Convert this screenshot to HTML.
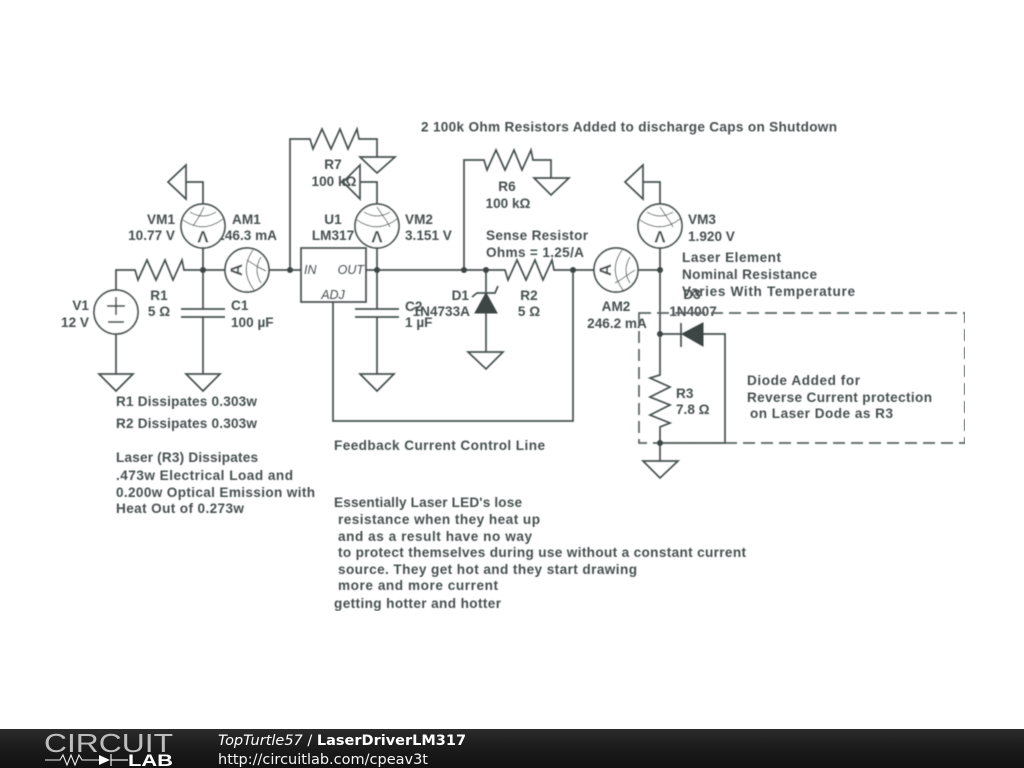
<!DOCTYPE html>
<html><head><meta charset="utf-8"><style>
html,body{margin:0;padding:0;background:#fff;width:1024px;height:768px;overflow:hidden}
svg{display:block;position:absolute;left:0;top:0}
.t{font-family:"Liberation Sans",sans-serif;font-weight:bold;font-size:13.6px;fill:#474f4f}
.m{text-anchor:middle}.e{text-anchor:end}
.i{font-family:"Liberation Sans",sans-serif;font-style:italic;font-size:12.5px;fill:#474f4f}
.w{fill:none;stroke:#474f4f;stroke-width:1.7;stroke-linejoin:miter}
.g{fill:none;stroke:#474f4f;stroke-width:1.7}
.n{fill:#3c4444}
.mc{fill:#fff;stroke:#474f4f;stroke-width:1.7}
.ma{fill:none;stroke:#5a6262;stroke-width:1}
.ml{font-family:"Liberation Sans",sans-serif;font-weight:bold;font-size:17px;fill:#474f4f;text-anchor:middle}
</style></head><body>
<svg width="1024" height="768" viewBox="0 0 1024 768" xmlns="http://www.w3.org/2000/svg">
<defs>
<filter id="b" x="0" y="0" width="100%" height="100%"><feGaussianBlur stdDeviation="0.4"/></filter>
<linearGradient id="bar" x1="0" y1="0" x2="0" y2="1"><stop offset="0" stop-color="#2b2b2b"/><stop offset="0.5" stop-color="#1b1b1b"/><stop offset="1" stop-color="#111"/></linearGradient>
<g id="arcL">
<path class="ma" d="M-13,-14 Q0,-6 13,-14"/>
<path class="ma" d="M-20,-6 Q0,8 20,-7"/>
<path class="ma" d="M-10,0 Q-6,-6 -3,-11 Q-1,-15 1,-19"/>
</g>
<g id="arcR">
<path class="ma" d="M-13,-14 Q0,-6 13,-14"/>
<path class="ma" d="M-20,-6 Q0,8 20,-7"/>
<path class="ma" d="M0,-19 Q4,-13 6,-10 Q10,-5 13,1"/>
</g>
</defs>
<g filter="url(#b)">
<text class="t" x="421" y="131.5" textLength="416">2 100k Ohm Resistors Added to discharge Caps on Shutdown</text>
<text class="t m" x="333" y="169">R7</text>
<text class="t m" x="334" y="186">100 kΩ</text>
<text class="t m" x="507" y="191">R6</text>
<text class="t m" x="508" y="208">100 kΩ</text>
<text class="t e" x="175" y="224">VM1</text>
<text class="t e" x="175" y="240">10.77 V</text>
<text class="t" x="232" y="224">AM1</text>
<text class="t e" x="277" y="240">246.3 mA</text>
<text class="t m" x="333" y="224">U1</text>
<text class="t m" x="333" y="240">LM317</text>
<text class="t m" x="159" y="300">R1</text>
<text class="t m" x="159" y="316">5 Ω</text>
<text class="t" x="231" y="310">C1</text>
<text class="t" x="231" y="327">100 µF</text>
<text class="t e" x="89" y="310">V1</text>
<text class="t e" x="89" y="327">12 V</text>
<text class="t" x="405" y="224">VM2</text>
<text class="t" x="405" y="240">3.151 V</text>
<text class="t" x="405" y="311">C2</text>
<text class="t" x="405" y="327">1 µF</text>
<text class="t e" x="469" y="300">D1</text>
<text class="t e" x="470" y="316">1N4733A</text>
<text class="t m" x="529" y="300">R2</text>
<text class="t m" x="529" y="316">5 Ω</text>
<text class="t" x="486" y="240" textLength="102">Sense Resistor</text>
<text class="t" x="486" y="257" textLength="98">Ohms = 1.25/A</text>
<text class="t" x="688" y="224">VM3</text>
<text class="t" x="688" y="241">1.920 V</text>
<text class="t" x="682" y="262" textLength="99">Laser Element</text>
<text class="t" x="682" y="279" textLength="135">Nominal Resistance</text>
<text class="t" x="682" y="296" textLength="173">Varies With Temperature</text>
<text class="t m" x="692" y="299">D3</text>
<text class="t m" x="693" y="316">1N4007</text>
<text class="t m" x="616" y="311">AM2</text>
<text class="t m" x="617" y="328">246.2 mA</text>
<text class="t" x="676" y="398">R3</text>
<text class="t" x="676" y="414">7.8 Ω</text>
<text class="t" x="747" y="385" textLength="113">Diode Added for</text>
<text class="t" x="747" y="402" textLength="185">Reverse Current protection</text>
<text class="t" x="750" y="418" textLength="143">on Laser Dode as R3</text>
<text class="t" x="116" y="406" textLength="141">R1 Dissipates 0.303w</text>
<text class="t" x="116" y="428" textLength="141">R2 Dissipates 0.303w</text>
<text class="t" x="116" y="462" textLength="142">Laser (R3) Dissipates</text>
<text class="t" x="116" y="480" textLength="177">.473w Electrical Load and</text>
<text class="t" x="116" y="497" textLength="199">0.200w Optical Emission with</text>
<text class="t" x="116" y="513" textLength="128">Heat Out of 0.273w</text>
<text class="t" x="334" y="450" textLength="211">Feedback Current Control Line</text>
<text class="t" x="334" y="507" textLength="188">Essentially Laser LED's lose</text>
<text class="t" x="338" y="524" textLength="202">resistance when they heat up</text>
<text class="t" x="338" y="541" textLength="194">and as a result have no way</text>
<text class="t" x="338" y="557" textLength="408">to protect themselves during use without a constant current</text>
<text class="t" x="338" y="574" textLength="299">source. They get hot and they start drawing</text>
<text class="t" x="338" y="590" textLength="160">more and more current</text>
<text class="t" x="334" y="608" textLength="167">getting hotter and hotter</text>

<!-- wires -->
<path class="w" d="M116,290 V270 H135 L138,280 L147,260 L156,280 L165,260 L173,280 L182,260 L184,270 H225"/>
<path class="w" d="M116,334 V374"/>
<path class="w" d="M203,248 V309 M203,317 V374 M181,309 H225 M181,317 H225"/>
<path class="w" d="M269,270 H301"/>
<path class="w" d="M290,270 V139 H310 L313,149 L322,129 L331,149 L340,129 L348,149 L357,129 L359,139 H377 V157"/>
<path class="w" d="M366,270 H505 L508,280 L517,260 L526,280 L535,260 L543,280 L552,260 L554,270 H594"/>
<path class="w" d="M377,248 V309 M377,317 V374 M355,309 H399 M355,317 H399"/>
<path class="w" d="M333,302 V421 H573 V270"/>
<path class="w" d="M464,270 V160 H484 L487,170 L496,150 L505,170 L514,150 L522,170 L531,150 L533,160 H551 V178"/>
<path class="w" d="M486,270 V352"/>
<path class="w" d="M472,297 L477,293 H495 L498,286"/>
<path class="n" d="M486,293 L497,313 H475 Z" stroke="#3c4444"/>
<path class="w" d="M638,270 H660"/>
<path class="w" d="M660,248 V375 L650,378 L670,387 L650,397 L670,405 L650,415 L670,423 L660,427 V461"/>
<path class="w" d="M660,334 H681 M681,323 V347 M703,334 H725 V443 H660"/>
<path class="n" d="M682,334 L703,323 V346 Z" stroke="#3c4444"/>

<!-- dashed box -->
<rect x="639" y="313" width="326" height="130" fill="none" stroke="#5a6262" stroke-width="1.7" stroke-dasharray="12 6"/>

<!-- grounds -->
<path class="g" d="M99,374 H133 L116,391 Z M186,374 H220 L203,391 Z M360,374 H394 L377,391 Z M360,157 H395 L377,173 Z M534,178 H569 L551,195 Z M468,352 H503 L486,369 Z M643,461 H678 L660,478 Z"/>
<path class="g" d="M186,165 V199 L168,182 Z M360,165 V199 L343,182 Z M643,165 V199 L625,182 Z"/>
<path class="w" d="M203,204 V182 H186 M377,204 V182 H360 M660,204 V182 H643"/>

<!-- U1 -->
<rect x="301" y="248" width="65" height="54" fill="none" stroke="#474f4f" stroke-width="1.7"/>
<text class="i" x="304" y="274">IN</text>
<text class="i e" x="364" y="274">OUT</text>
<text class="i m" x="333" y="299">ADJ</text>

<!-- V1 -->
<circle class="mc" cx="116" cy="312" r="22"/>
<path class="w" d="M107,306 H125 M116,297 V315 M108,322 H124"/>

<!-- meters -->
<g transform="translate(203,226)"><circle class="mc" r="22"/><use href="#arcL"/><text class="ml" transform="translate(0,5) rotate(180)">V</text></g>
<g transform="translate(377,226)"><circle class="mc" r="22"/><use href="#arcR"/><text class="ml" transform="translate(0,5) rotate(180)">V</text></g>
<g transform="translate(660,226)"><circle class="mc" r="22"/><use href="#arcR"/><text class="ml" transform="translate(0,5) rotate(180)">V</text></g>
<g transform="translate(247,270) rotate(90)"><circle class="mc" r="22"/><use href="#arcL"/><text class="ml" transform="translate(0,5) rotate(180)">A</text></g>
<g transform="translate(616,270) rotate(90)"><circle class="mc" r="22"/><use href="#arcR"/><text class="ml" transform="translate(0,5) rotate(180)">A</text></g>

<!-- nodes -->
<g class="n">
<circle cx="203" cy="270" r="3"/><circle cx="290" cy="270" r="3"/><circle cx="377" cy="270" r="3"/>
<circle cx="464" cy="270" r="3"/><circle cx="486" cy="270" r="3"/><circle cx="573" cy="270" r="3"/>
<circle cx="660" cy="270" r="3"/><circle cx="660" cy="334" r="3"/><circle cx="660" cy="443" r="3"/>
</g>
</g>

<!-- footer -->
<rect x="0" y="729" width="1024" height="39" fill="url(#bar)"/>
<text x="44" y="752" font-family="'Liberation Sans',sans-serif" font-size="26" textLength="129" lengthAdjust="spacingAndGlyphs" fill="#bdbdbd">CIRCUIT</text>
<path d="M45,760 H60 L63,755 L67,765 L71,755 L75,765 L79,755 L82,760 H99" fill="none" stroke="#eee" stroke-width="1.1"/>
<path d="M99,755 L110,760 L99,765 Z" fill="#fff"/>
<path d="M111,754 V766 M111,760 H128" stroke="#eee" stroke-width="1.2" fill="none"/>
<text x="128" y="766" font-family="'Liberation Sans',sans-serif" font-weight="bold" font-size="16.5" textLength="45" lengthAdjust="spacingAndGlyphs" fill="#fff">LAB</text>
<text x="218" y="745" font-family="'DejaVu Sans',sans-serif" font-size="14.5" fill="#fff"><tspan font-style="italic">TopTurtle57</tspan> / <tspan font-weight="bold">LaserDriverLM317</tspan></text>
<text x="218" y="764" font-family="'DejaVu Sans',sans-serif" font-size="14.5" fill="#f4f4f4">http://circuitlab.com/cpeav3t</text>
</svg>
</body></html>
